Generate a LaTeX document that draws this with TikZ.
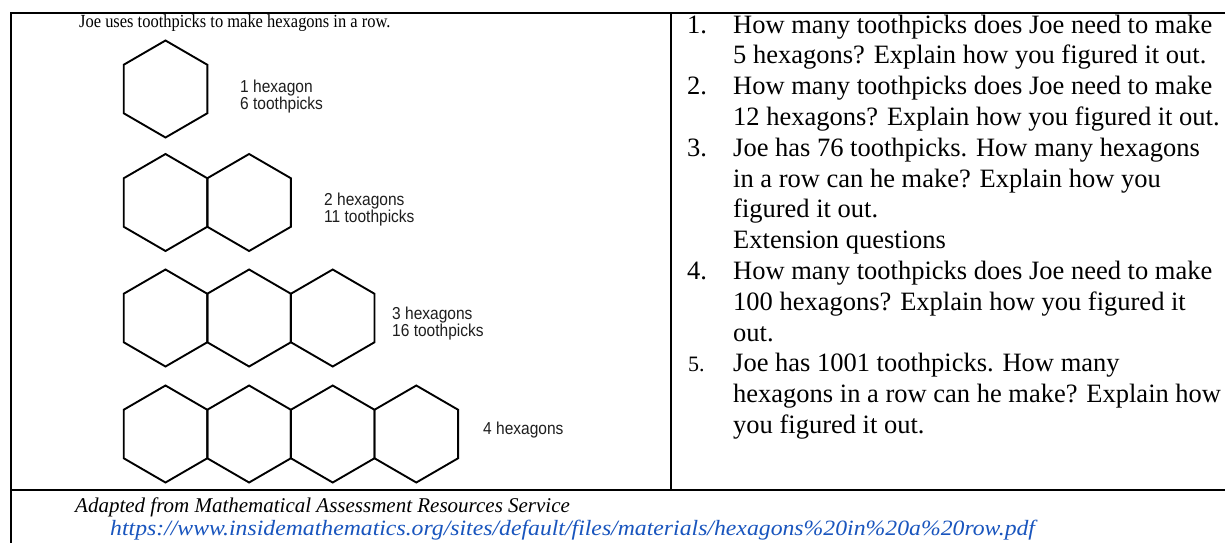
\documentclass[tikz,border=0pt]{standalone}
\usepackage{fontspec}
\setmainfont{Liberation Serif}
\newfontfamily\arialf{Liberation Sans}
\definecolor{linkblue}{RGB}{25,85,190}
\definecolor{labgray}{RGB}{30,30,30}
\newcommand{\hexlabtxt}[1]{\scalebox{0.97}[1.08]{#1}}
\begin{document}
\begin{tikzpicture}[x=1pt,y=-1pt,
  qtext/.style={anchor=base west,inner sep=0pt,font=\fontsize{26.5}{30}\selectfont},
  qnum/.style={anchor=base west,inner sep=0pt,font=\fontsize{26.5}{30}\selectfont},
  hexlab/.style={anchor=base west,inner sep=0pt,text=labgray,font=\arialf\fontsize{16}{15}\selectfont},
  title/.style={anchor=base west,inner sep=0pt,font=\fontsize{18.5}{18}\selectfont},
  src/.style={anchor=base west,inner sep=0pt,font=\itshape\fontsize{21}{23}\selectfont},
  rule/.style={line width=2.6pt,line cap=rect},
  hexline/.style={line width=1.9pt,line join=miter}]
\useasboundingbox (0,0) rectangle (1225,542);
\fill[white] (0,0) rectangle (1225,542);
% table rules
\draw[rule] (11,13) -- (1226,13);
\draw[rule] (11,13) -- (11,543);
\draw[rule] (671,13) -- (671,490);
\draw[rule] (11,490) -- (1226,490);
% title
\node[title] (ttl) at (79,27) {\scalebox{0.89}[1]{Joe uses toothpicks to make hexagons in a row.}};
% hexagons
\def\hR{48.5}\def\hW{41.8}\def\hS{83.6}
\foreach \n/\cy in {1/89,2/202.5,3/318,4/434}{
  \foreach \k in {1,...,\n}{
    \pgfmathsetmacro{\cx}{165.5+(\k-1)*\hS}
    \draw[hexline] (\cx,\cy-\hR) -- (\cx+\hW,\cy-\hR/2) -- (\cx+\hW,\cy+\hR/2)
      -- (\cx,\cy+\hR) -- (\cx-\hW,\cy+\hR/2) -- (\cx-\hW,\cy-\hR/2) -- cycle;
  }
}
% hexagon labels
\node[hexlab] (l1a) at (240,92) {\hexlabtxt{1 hexagon}};
\node[hexlab] (l1b) at (240,109) {\hexlabtxt{6 toothpicks}};
\node[hexlab] (l2a) at (324,205) {\hexlabtxt{2 hexagons}};
\node[hexlab] (l2b) at (324,222) {\hexlabtxt{11 toothpicks}};
\node[hexlab] (l3a) at (392,319) {\hexlabtxt{3 hexagons}};
\node[hexlab] (l3b) at (392,336) {\hexlabtxt{16 toothpicks}};
\node[hexlab] (l4a) at (483,434) {\hexlabtxt{4 hexagons}};
% questions
\node[qnum] (n1) at (687,33) {1.};
\node[qtext] (q1a) at (733,33) {How many toothpicks does Joe need to make};
\node[qtext] (q1b) at (733,63.8) {5 hexagons? Explain how you figured it out.};
\node[qnum] (n2) at (687,94.6) {2.};
\node[qtext] (q2a) at (733,94.6) {How many toothpicks does Joe need to make};
\node[qtext] (q2b) at (733,125.4) {12 hexagons? Explain how you figured it out.};
\node[qnum] (n3) at (687,156.2) {3.};
\node[qtext] (q3a) at (733,156.2) {Joe has 76 toothpicks. How many hexagons};
\node[qtext] (q3b) at (733,187) {in a row can he make? Explain how you};
\node[qtext] (q3c) at (733,217.8) {figured it out.};
\node[qtext] (ext) at (733,248.6) {Extension questions};
\node[qnum] (n4) at (687,279.4) {4.};
\node[qtext] (q4a) at (733,279.4) {How many toothpicks does Joe need to make};
\node[qtext] (q4b) at (733,310.2) {100 hexagons? Explain how you figured it};
\node[qtext] (q4c) at (733,341) {out.};
\node[qnum,font=\fontsize{22}{26}\selectfont] (n5) at (688,371.8) {5.};
\node[qtext] (q5a) at (733,371.8) {Joe has 1001 toothpicks. How many};
\node[qtext] (q5b) at (733,402.6) {hexagons in a row can he make? Explain how};
\node[qtext] (q5c) at (733,433.4) {you figured it out.};
% source
\node[src] (s1) at (75,512) {Adapted from Mathematical Assessment Resources Service};
\node[src,text=linkblue] (s2) at (110,535) {\scalebox{1.13}[1.04]{https://www.insidemathematics.org/sites/default/files/materials/hexagons\%20in\%20a\%20row.pdf}};
\end{tikzpicture}
\end{document}
